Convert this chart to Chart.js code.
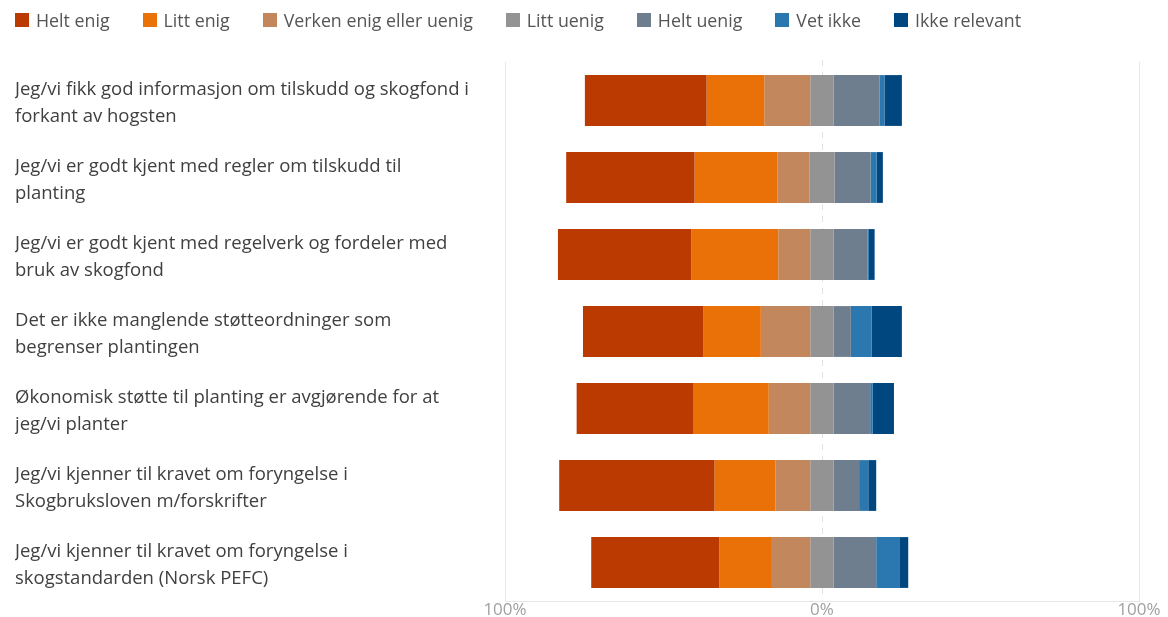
<!DOCTYPE html>
<html>
<head>
<meta charset="utf-8">
<script src="https://cdn.jsdelivr.net/npm/chart.js@4"></script>
<style>
    body { margin: 0; background: #fff; }
    #wrap { position: relative; width: 1168px; height: 617px; }
    #legend { position: absolute; left: 15px; top: 8px; display: flex; font-family: "Open Sans", sans-serif; font-size: 17.8px; color: #555; }
    #legend span.item { display: flex; align-items: center; margin-right: 33px; }
    #legend span.box { width: 14px; height: 14px; margin-right: 7px; display: inline-block; }
</style>
</head>
<body>
<div id="wrap">
    <div id="legend"></div>
    <canvas id="chart"></canvas>
</div>
<script>
// Statements (two lines each)
const statements = [
    ["Jeg/vi fikk god informasjon om tilskudd og skogfond i", "forkant av hogsten"],
    ["Jeg/vi er godt kjent med regler om tilskudd til", "planting"],
    ["Jeg/vi er godt kjent med regelverk og fordeler med", "bruk av skogfond"],
    ["Det er ikke manglende støtteordninger som", "begrenser plantingen"],
    ["Økonomisk støtte til planting er avgjørende for at", "jeg/vi planter"],
    ["Jeg/vi kjenner til kravet om foryngelse i", "Skogbruksloven m/forskrifter"],
    ["Jeg/vi kjenner til kravet om foryngelse i", "skogstandarden (Norsk PEFC)"]
];

// Answer shares in percent, one value per statement
const heltEnig     = [38.4, 40.5, 42.1, 37.9, 36.9, 49.0, 40.4];
const littEnig     = [18.2, 26.1, 27.4, 18.2, 23.7, 19.2, 16.6];
const verken       = [14.5, 10.1, 10.1, 15.6, 13.1, 11.0, 12.1];
const littUenig    = [7.4, 8.0, 7.4, 7.4, 7.4, 7.4, 7.4];
const heltUenig    = [14.5, 11.3, 10.6, 5.4, 11.5, 8.0, 13.4];
const vetIkke      = [1.5, 1.9, 0.5, 6.6, 0.8, 2.9, 7.5];
const ikkeRelevant = [5.5, 2.0, 1.8, 9.5, 6.7, 2.5, 2.6];

const seriesNames = ["Helt enig", "Litt enig", "Verken enig eller uenig", "Litt uenig", "Helt uenig", "Vet ikke", "Ikke relevant"];
const seriesColors = ["#BA3A02", "#E97108", "#C2875C", "#939393", "#6F7E8F", "#2B78B0", "#00467F"];

const xTicks = [-100, 0, 100];

// Legend (HTML)
const legendEl = document.getElementById('legend');
seriesNames.forEach((name, i) => {
    const item = document.createElement('span');
    item.className = 'item';
    const box = document.createElement('span');
    box.className = 'box';
    box.style.background = seriesColors[i];
    item.appendChild(box);
    item.appendChild(document.createTextNode(name));
    legendEl.appendChild(item);
});

// Diverging layout: "Litt uenig" is centred on 0, the agree side grows
// to the left and the disagree side to the right.
const series = [heltEnig, littEnig, verken, littUenig, heltUenig, vetIkke, ikkeRelevant];
const ranges = series.map(() => []);
statements.forEach((_, i) => {
    const mid = littUenig[i] / 2;
    ranges[3][i] = [-mid, mid];
    let pos = -mid;
    for (let s = 2; s >= 0; s--) {
        ranges[s][i] = [pos - series[s][i], pos];
        pos -= series[s][i];
    }
    pos = mid;
    for (let s = 4; s < series.length; s++) {
        ranges[s][i] = [pos, pos + series[s][i]];
        pos += series[s][i];
    }
});

const datasets = seriesNames.map((name, s) => ({
    label: name,
    data: ranges[s],
    backgroundColor: seriesColors[s],
    borderWidth: 0,
    grouped: false,
    barPercentage: 0.66,
    categoryPercentage: 1
}));

// Dashed line at 0%, behind the bars
const zeroLine = {
    id: 'zeroLine',
    beforeDatasetsDraw(chart) {
        const { ctx, chartArea, scales } = chart;
        const x = Math.round(scales.x.getPixelForValue(0)) + 0.5;
        ctx.save();
        ctx.strokeStyle = '#e0e0e0';
        ctx.lineWidth = 1;
        ctx.setLineDash([6, 6]);
        ctx.beginPath();
        ctx.moveTo(x, chartArea.top - 2);
        ctx.lineTo(x, chartArea.bottom);
        ctx.stroke();
        ctx.restore();
    }
};

new Chart(document.getElementById('chart'), {
    type: 'bar',
    data: { labels: statements, datasets: datasets },
    plugins: [zeroLine],
    options: {
        indexAxis: 'y',
        responsive: true,
        maintainAspectRatio: false,
        animation: false,
        layout: { padding: { top: 62, left: 15, right: 29, bottom: 0 } },
        plugins: {
            legend: { display: false },
            tooltip: { enabled: false }
        },
        scales: {
            x: {
                min: -100,
                max: 100,
                afterBuildTicks(scale) {
                    scale.ticks = xTicks.map(v => ({ value: v }));
                },
                afterFit(scale) { scale.height = 16; },
                grid: {
                    drawTicks: false,
                    color: c => (c.tick && c.tick.value === 0) ? 'rgba(0,0,0,0)' : '#e6e6e6'
                },
                border: { display: true, color: '#e6e6e6' },
                ticks: {
                    padding: 2.5,
                    color: '#a0a0a0',
                    font: { family: 'Open Sans', size: 17, lineHeight: 0.75 },
                    callback: v => Math.abs(v) + '%'
                }
            },
            y: {
                afterFit(scale) {
                    scale.width = 490;
                    // labels may overhang the plot; don't shrink it for them
                    scale.paddingTop = 0;
                    scale.paddingBottom = 0;
                },
                grid: { display: false },
                border: { display: false },
                ticks: {
                    crossAlign: 'far',
                    padding: 0,
                    labelOffset: 3,
                    color: '#404040',
                    font: { family: 'Open Sans', size: 18.5, lineHeight: 1.47 }
                }
            }
        }
    }
});
</script>
</body>
</html>
